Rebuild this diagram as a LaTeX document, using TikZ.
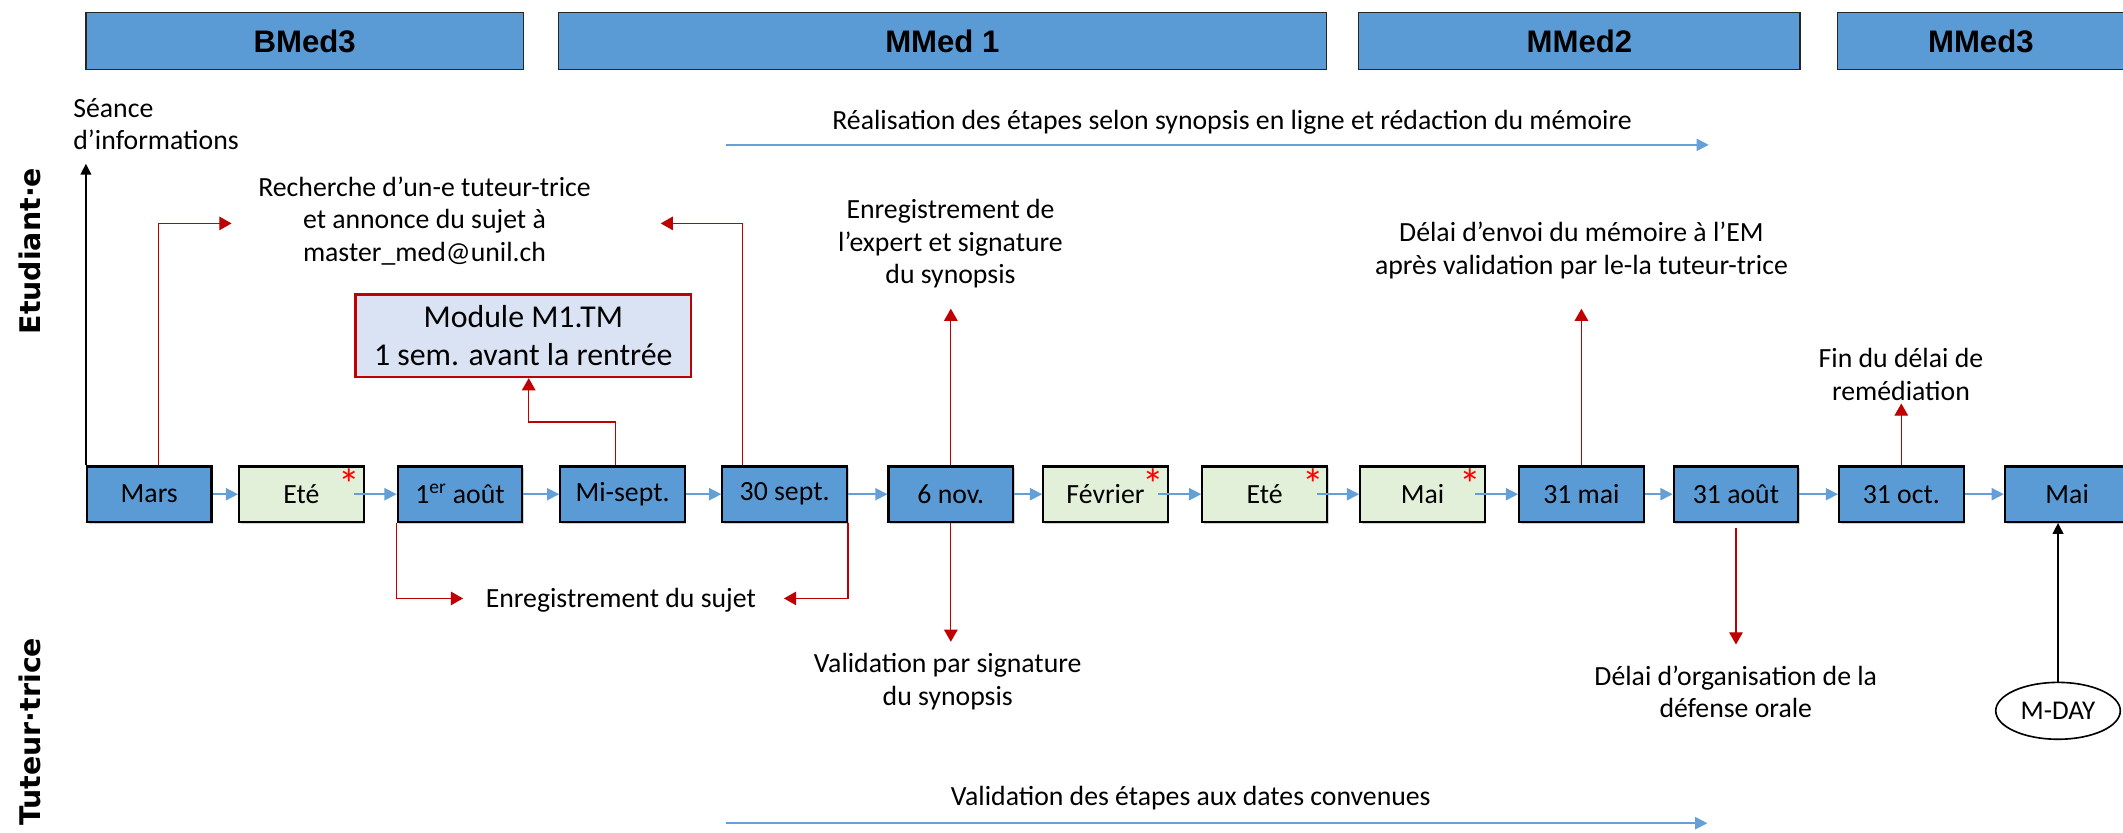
\documentclass[tikz,border=0pt]{standalone}
\usepackage{fontspec}
\setmainfont{Carlito}
\newfontfamily\hdrfont{Liberation Sans}
\newfontfamily\sidefont{DejaVu Sans}
\usetikzlibrary{arrows.meta,shapes.geometric,calc,shadows}
\definecolor{hblue}{RGB}{91,155,213}
\definecolor{lgreen}{RGB}{226,240,217}
\definecolor{dred}{RGB}{192,0,0}
\definecolor{modfill}{RGB}{218,227,243}
\definecolor{abl}{RGB}{100,160,215}
\begin{document}
\begin{tikzpicture}[x=1pt,y=-1pt,
 phase/.style={draw=black!85,line width=0.9pt,fill=hblue,minimum height=42pt,inner sep=0pt,font=\hdrfont\bfseries\fontsize{23}{27}\selectfont},
 datebox/.style={draw=black,line width=1.6pt,fill=hblue,minimum width=92pt,minimum height=41pt,inner sep=0pt,font=\fontsize{20.5}{24}\selectfont,
   drop shadow={shadow xshift=1.2pt,shadow yshift=-1.2pt,opacity=0.35}},
 greenbox/.style={datebox,fill=lgreen},
 lbl/.style={align=center,inner sep=0pt,font=\fontsize{20.5}{24}\selectfont},
 flow/.style={draw=abl,line width=1.2pt,-{Triangle[length=9pt,width=9pt]}},
 redc/.style={draw=dred,line width=0.9pt,-{Triangle[length=9pt,width=10pt]}},
 blk/.style={draw=black,line width=1pt,-{Triangle[length=8pt,width=8pt]}},
 star/.style={text=red,inner sep=0pt,font=\fontsize{32}{32}\selectfont},
 side/.style={rotate=90,font=\sidefont\bfseries\fontsize{21}{25}\selectfont,inner sep=0pt},
]
\useasboundingbox (0,0) rectangle (1568,614.5);
\clip (0,0) rectangle (1568,614.5);
\fill[white] (0,0) rectangle (1568,614.5);

% phase headers
\node[phase,minimum width=323pt] (bmed3) at (225,30.5) {BMed3};
\node[phase,minimum width=567pt] (mmed1) at (696,30.5) {MMed 1};
\node[phase,minimum width=326pt] (mmed2) at (1166.5,30.5) {MMed2};
\node[phase,minimum width=212pt] (mmed3) at (1463,30.5) {MMed3};

% timeline
\node[datebox] (mars) at (110.25,365) {Mars};
\node[greenbox] (ete1) at (222.6,365) {Eté};
\node[datebox] (aout1) at (339.75,365) {1\textsuperscript{er} août};
\node[datebox] (misept) at (459.8,365) {Mi-sept.};
\node[datebox] (sep30) at (579.5,365) {30 sept.};
\node[datebox] (nov6) at (702.25,365) {6 nov.};
\node[greenbox] (fev) at (816.5,365) {Février};
\node[greenbox] (ete2) at (934,365) {Eté};
\node[greenbox] (mai1) at (1050.6,365) {Mai};
\node[datebox] (mai31) at (1168,365) {31 mai};
\node[datebox] (aout31) at (1282.15,365) {31 août};
\node[datebox] (oct31) at (1404.25,365) {31 oct.};
\node[datebox] (mai2) at (1526.75,365) {Mai};

\foreach \b in {ete1,fev,ete2,mai1}
  \node[star,anchor=north east] at ([xshift=-3pt,yshift=-2.5pt]\b.north east) {*};

\foreach \a/\b in {mars/ete1,aout1/misept,misept/sep30,sep30/nov6,mai31/aout31,aout31/oct31,oct31/mai2}
  \draw[flow] (\a.east) -- (\b.west);
\foreach \a/\b in {ete1/aout1,fev/ete2,ete2/mai1,mai1/mai31}
  \draw[flow] ([xshift=-8pt]\a.east) -- (\b.west);
\draw[flow] (nov6.east) -- (fev.west);

% texts
\node[lbl,anchor=west,align=left] (seance) at (54,91.5) {Séance\\d’informations};
\node[lbl] (realis) at (910,90) {Réalisation des étapes selon synopsis en ligne et rédaction du mémoire};
\node[lbl] (rech) at (313.5,163) {Recherche d’un-e tuteur-trice\\et annonce du sujet à\\master\_med@unil.ch};
\node[draw=dred,line width=1.6pt,fill=modfill,minimum width=248pt,minimum height=61pt,align=center,inner sep=0pt,font=\fontsize{23.5}{28}\selectfont] (module) at (386.5,248) {Module M1.TM\\1 sem. avant la rentrée};
\node[lbl] (sujet) at (458.5,443) {Enregistrement du sujet};
\node[lbl] (expert) at (702,180) {Enregistrement de\\l’expert et signature\\du synopsis};
\node[lbl] (valsig) at (700,503.5) {Validation par signature\\du synopsis};
\node[lbl] (envoi) at (1168,185) {Délai d’envoi du mémoire à l’EM\\après validation par le-la tuteur-trice};
\node[lbl] (fin) at (1404,276.5) {Fin du délai de\\remédiation};
\node[lbl] (orga) at (1282,511) {Délai d’organisation de la\\défense orale};
\node[lbl] (valet) at (879.5,589.5) {Validation des étapes aux dates convenues};
\node[side] (etud) at (22,185.5) {Etudiant·e};
\node[side] (tut) at (22,540.5) {Tuteur·trice};
\node[draw,ellipse,line width=1.2pt,minimum width=92pt,minimum height=42pt,inner sep=0pt,font=\fontsize{20}{24}\selectfont] (mday) at (1520,525) {M-DAY};

% free ends
\coordinate (seanceTip) at (63.5,121);
\coordinate (rechL) at (171,165);
\coordinate (rechR) at (488,165);
\coordinate (sujL) at (342,442);
\coordinate (sujR) at (579,442);
\coordinate (expTip) at (702.25,228);
\coordinate (valTip) at (702.25,474);
\coordinate (envTip) at (1168,228);
\coordinate (finTip) at (1404.25,298);
\coordinate (orgTip) at (1282.15,476);
\coordinate (realL) at (536,107);
\coordinate (realR) at (1262,107);
\coordinate (valL) at (536,608);
\coordinate (valR) at (1261,608);

% connectors
\draw[blk] (mars.north west) -- (mars.north west |- seanceTip);
\draw[redc] ([xshift=6.75pt]mars.north) |- (rechL);
\draw[redc] ([xshift=-31pt]sep30.north) |- (rechR);
\draw[redc] ([xshift=-5pt]misept.north) -- ++(0,-32) -| ([xshift=4pt]module.south);
\draw[redc] (aout1.south west) |- (sujL);
\draw[redc] (sep30.south east) |- (sujR);
\draw[redc] (nov6.north) -- (expTip);
\draw[redc] (nov6.south) -- (valTip);
\draw[redc] (mai31.north) -- (envTip);
\draw[redc] (oct31.north) -- (finTip);
\draw[redc] ([yshift=-4pt]aout31.south) -- (orgTip);
\draw[blk] (mday.north) -- (mday.north |- mai2.south);
\draw[flow] (realL) -- (realR);
\draw[flow] (valL) -- (valR);
\end{tikzpicture}
\end{document}
